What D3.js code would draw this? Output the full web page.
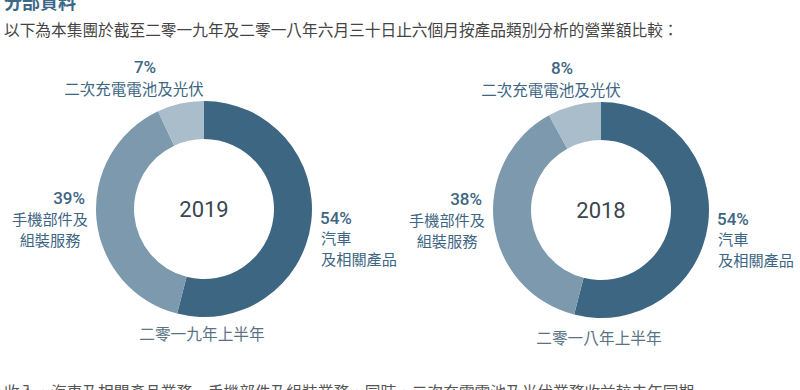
<!DOCTYPE html>
<html>
<head>
<meta charset="utf-8">
<script src="https://cdn.jsdelivr.net/npm/d3@7"></script>
<style>
  body { margin: 0; background: #fff; }
  svg { display: block; font-family: "Noto Sans CJK TC", "Noto Sans", sans-serif; }
</style>
</head>
<body>
<div id="chart"></div>
<script>
// segments, in drawing order (clockwise from 12 o'clock)
const categories = ["汽車及相關產品", "手機部件及組裝服務", "二次充電電池及光伏"];
const values2019 = [54, 39, 7];
const values2018 = [54, 38, 8];
const years = ["2019", "2018"];
const periodLabels = ["二零一九年上半年", "二零一八年上半年"];

const width = 800;
const height = 390;

const svg = d3.select("#chart").append("svg")
    .attr("width", width)
    .attr("height", height);

// heading + intro line (heading is cut off at the top in the source)
svg.append("text")
    .attr("x", 4).attr("y", 9)
    .attr("font-size", 18).attr("font-weight", 700)
    .attr("fill", "#3b6889")
    .text("分部資料");

svg.append("text")
    .attr("x", 4).attr("y", 36)
    .attr("font-size", 15.7)
    .attr("fill", "#444")
    .text("以下為本集團於截至二零一九年及二零一八年六月三十日止六個月按產品類別分析的營業額比較：");

// following paragraph, only the top is visible
svg.append("text")
    .attr("x", 4).attr("y", 398)
    .attr("font-size", 15.7)
    .attr("fill", "#555")
    .text("收入，汽車及相關產品業務、手機部件及組裝業務，同時，二次充電電池及光伏業務收益較去年同期");

const color = d3.scaleOrdinal().domain(categories).range(["#3d6683", "#7d99ae", "#a9bdcb"]);

const pie = d3.pie().sort(null).value((d) => d.value);
const arc = d3.arc().innerRadius(70).outerRadius(108);

const makeDonut = (values, year, period, cx, cy, periodDy) => {
    const data = categories.map((c, i) => ({ key: c, value: values[i] }));
    const g = svg.append("g").attr("transform", "translate(" + cx + "," + cy + ")");

    g.selectAll("path")
        .data(pie(data))
        .enter().append("path")
        .attr("d", arc)
        .attr("fill", (d) => color(d.data.key));

    g.append("text")
        .attr("text-anchor", "middle")
        .attr("dy", "0.35em")
        .attr("font-family", "Roboto, sans-serif")
        .attr("font-size", 22)
        .attr("fill", "#3a4650")
        .text(year);

    const labelColor = "#3d6683";

    // top label: small slice
    g.append("text")
        .attr("x", cx > 400 ? -39 : -59).attr("y", -136)
        .attr("text-anchor", "middle")
        .attr("font-family", "Roboto, sans-serif")
        .attr("font-weight", 500).attr("font-size", 17)
        .attr("fill", labelColor)
        .text(values[2] + "%");
    g.append("text")
        .attr("x", cx > 400 ? -50 : -70).attr("y", -114)
        .attr("text-anchor", "middle")
        .attr("font-size", 15.5)
        .attr("fill", labelColor)
        .text("二次充電電池及光伏");

    // left label
    g.append("text")
        .attr("x", -119).attr("y", -5)
        .attr("text-anchor", "end")
        .attr("font-family", "Roboto, sans-serif")
        .attr("font-weight", 500).attr("font-size", 17)
        .attr("fill", labelColor)
        .text(values[1] + "%");
    g.selectAll("text.left")
        .data(["手機部件及", "組裝服務"])
        .enter().append("text")
        .attr("x", -154).attr("y", (d, i) => 16 + i * 21)
        .attr("text-anchor", "middle")
        .attr("font-size", 15.2)
        .attr("fill", labelColor)
        .text((d) => d);

    // right label
    g.append("text")
        .attr("x", 116).attr("y", 15)
        .attr("font-family", "Roboto, sans-serif")
        .attr("font-weight", 500).attr("font-size", 17)
        .attr("fill", labelColor)
        .text(values[0] + "%");
    g.selectAll("text.right")
        .data(["汽車", "及相關產品"])
        .enter().append("text")
        .attr("x", 117).attr("y", (d, i) => 35 + i * 21)
        .attr("font-size", 15.2)
        .attr("fill", labelColor)
        .text((d) => d);

    // period label under the donut
    g.append("text")
        .attr("x", -2).attr("y", 131 + periodDy)
        .attr("text-anchor", "middle")
        .attr("font-size", 15.7)
        .attr("fill", "#5a7384")
        .text(period);
};

makeDonut(values2019, years[0], periodLabels[0], 204, 209, 0);
makeDonut(values2018, years[1], periodLabels[1], 601, 210, 3);
</script>
</body>
</html>
